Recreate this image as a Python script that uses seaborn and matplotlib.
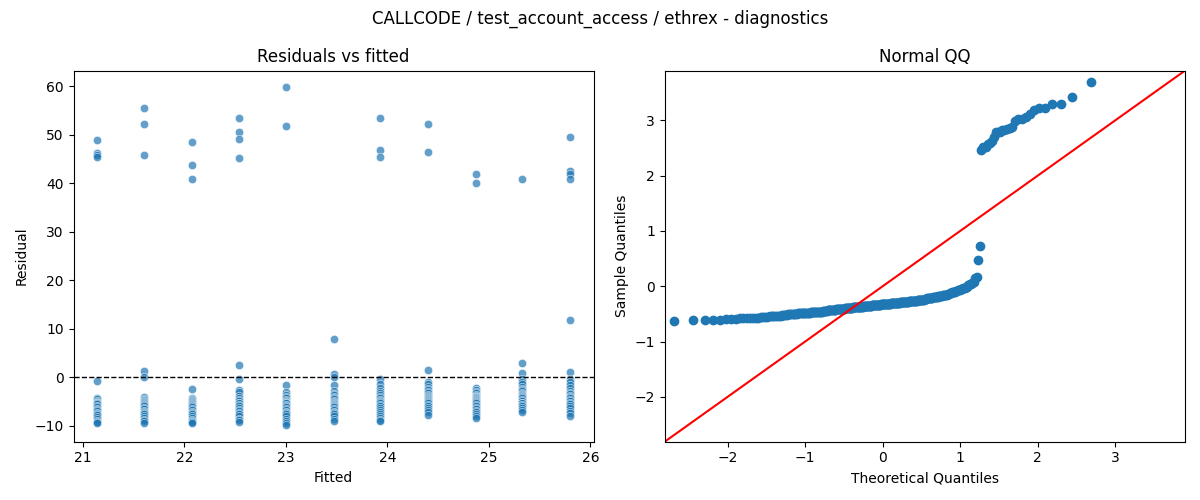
import numpy as np
import pandas as pd
import matplotlib
matplotlib.use("Agg")
import matplotlib.pyplot as plt
import seaborn as sns
from statistics import NormalDist

# valores ajustados (uno por grupo)
fitted_vals = [21.14, 21.60, 22.07, 22.54, 23.00, 23.47, 23.93, 24.40, 24.87, 25.33, 25.80]

# residuos por grupo
res_g1 = [48.9, 46.1, 45.7, 45.3, -0.7, -4.3, -4.5, -4.8, -5.0, -5.2, -5.4, -5.6,
          -5.9, -6.2, -6.5, -6.8, -7.0, -7.3, -7.6, -7.8, -8.2, -8.6, -9.0, -9.3, -9.5]
res_g2 = [55.4, 52.1, 45.7, 1.2, 0.0, -4.0, -4.4, -4.6, -4.9, -5.1, -5.3, -5.5, -5.7,
          -6.0, -6.3, -6.6, -6.9, -7.1, -7.4, -7.6, -7.9, -8.3, -8.7, -9.1, -9.45]
res_g3 = [48.4, 43.7, 40.8, -2.5, -4.2, -4.4, -4.7, -4.9, -5.1, -5.3, -5.5, -5.7,
          -5.9, -6.2, -6.5, -6.8, -7.1, -7.3, -7.6, -7.9, -8.3, -8.7, -9.0, -9.3, -9.5]
res_g4 = [53.4, 50.5, 49.0, 45.1, 2.6, -0.3, -2.7, -3.1, -3.8, -4.3, -4.6, -4.9, -5.2,
          -5.4, -5.7, -6.0, -6.3, -6.7, -7.0, -7.3, -7.6, -8.0, -8.5, -8.9, -9.3]
res_g5 = [59.7, 51.7, -1.6, -3.1, -3.6, -4.0, -4.3, -4.6, -4.8, -5.0, -5.2, -5.4, -5.7,
          -5.9, -6.2, -6.5, -6.8, -7.1, -7.4, -7.6, -8.0, -8.5, -9.0, -9.5, -9.8]
res_g6 = [7.9, 0.6, 0.1, -1.5, -2.8, -3.35, -3.7, -4.0, -4.3, -4.5, -4.8, -5.0, -5.2,
          -5.5, -5.7, -5.9, -6.2, -6.5, -6.8, -7.1, -7.3, -7.6, -8.0, -8.5, -9.0]
res_g7 = [53.4, 46.8, 45.3, -0.4, -1.3, -2.2, -2.8, -3.3, -3.7, -4.1, -4.3, -4.6, -4.9,
          -5.1, -5.4, -5.7, -6.0, -6.4, -6.8, -7.1, -7.5, -7.9, -8.3, -8.7, -9.0]
res_g8 = [52.1, 46.4, 1.6, -0.9, -1.4, -1.9, -2.4, -2.7, -3.0, -3.3, -3.6, -3.9, -4.1,
          -4.3, -4.5, -4.7, -4.9, -5.1, -5.4, -5.7, -6.0, -6.4, -6.8, -7.2, -7.7]
res_g9 = [41.9, 40.0, -2.3, -2.7, -3.0, -3.3, -3.6, -3.8, -4.0, -4.15, -4.3, -4.5, -4.7,
          -4.9, -5.1, -5.4, -5.7, -6.0, -6.3, -6.6, -6.9, -7.2, -7.5, -7.9, -8.3]
res_g10 = [40.8, 3.0, 0.8, -0.3, -0.9, -1.4, -1.9, -2.4, -2.7, -2.9, -3.2, -3.5, -3.7,
           -3.9, -4.1, -4.3, -4.6, -4.9, -5.2, -5.4, -5.7, -6.0, -6.4, -6.8, -7.1]
res_g11 = [49.5, 42.5, 41.8, 40.8, 11.9, 1.0, -0.4, -1.0, -1.6, -2.2, -2.8, -3.2, -3.5,
           -3.8, -4.1, -4.3, -4.6, -4.9, -5.2, -5.5, -5.9, -6.4, -6.9, -7.4, -7.9]

groups = [res_g1, res_g2, res_g3, res_g4, res_g5, res_g6, res_g7, res_g8, res_g9, res_g10, res_g11]

rows = []
for f, g in zip(fitted_vals, groups):
    for r in g:
        rows.append({"Fitted": f, "Residual": r})
df = pd.DataFrame(rows)

# QQ normal (como statsmodels, fit=True)
resid = np.sort(df["Residual"].to_numpy())
n = len(resid)
nd = NormalDist()
theo = np.array([nd.inv_cdf(i / (n + 1)) for i in range(1, n + 1)])
sample = (resid - resid.mean()) / resid.std()
qq = pd.DataFrame({"Theoretical Quantiles": theo, "Sample Quantiles": sample})

fig, axes = plt.subplots(1, 2, figsize=(12, 5), dpi=100)

ax = axes[0]
sns.scatterplot(data=df, x="Fitted", y="Residual", ax=ax, alpha=0.7)
ax.axhline(0, color="black", linestyle="--", linewidth=1)
ax.set_title("Residuals vs fitted")

ax = axes[1]
sns.scatterplot(data=qq, x="Theoretical Quantiles", y="Sample Quantiles", ax=ax,
                s=36, color="#1f77b4", edgecolor="#1f77b4", linewidth=1)
ax.set_xlim(-2.81, 3.90)
ax.set_ylim(-2.81, 3.90)
ax.axline((0, 0), slope=1, color="red")
ax.set_title("Normal QQ")

fig.suptitle("CALLCODE / test_account_access / ethrex - diagnostics")
plt.tight_layout()
plt.savefig("out.png")
